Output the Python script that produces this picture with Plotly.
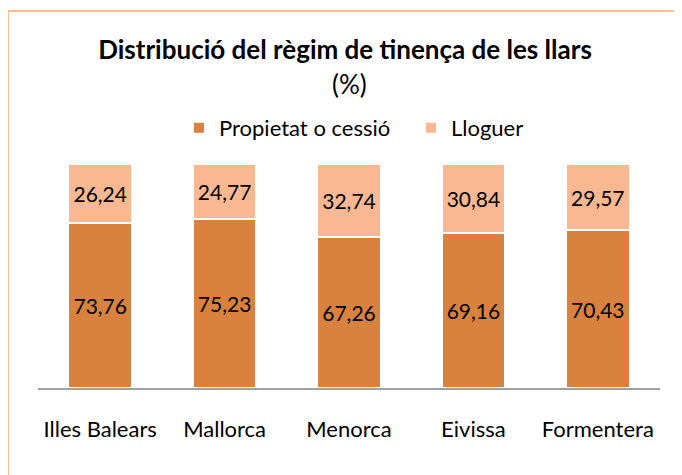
import plotly.graph_objects as go

categories = ["Illes Balears", "Mallorca", "Menorca", "Eivissa", "Formentera"]
propietat = [73.76, 75.23, 67.26, 69.16, 70.43]
lloguer = [26.24, 24.77, 32.74, 30.84, 29.57]

# page body has an 8px margin: work in reference pixels and shift by 8
OFF = 8
W, H = 682 - OFF, 475 - OFF
L, R, T, B = 38 - OFF, 22, 164 - OFF, 87
pw, ph = W - L - R, H - T - B

def px(x):
    return (x - OFF - L) / pw

def py(y):
    return (H - B - (y - OFF)) / ph

FONT = "Lato"

fig = go.Figure()
fig.add_trace(go.Bar(
    x=categories, y=propietat, name="Propietat o cessió",
    marker=dict(color="#D9823F", line=dict(color="white", width=2)),
    texttemplate="%{y:.2f}", textposition="inside", insidetextanchor="middle",
    textfont=dict(size=21, color="black", family=FONT),
))
fig.add_trace(go.Bar(
    x=categories, y=lloguer, name="Lloguer",
    marker=dict(color="#F9B891", line=dict(color="white", width=2)),
    texttemplate="%{y:.2f}", textposition="inside", insidetextanchor="middle",
    textfont=dict(size=21, color="black", family=FONT),
))

fig.update_layout(
    width=W, height=H,
    margin=dict(l=L, r=R, t=T, b=B, autoexpand=False),
    barmode="stack", bargap=0.49,
    separators=",.",
    paper_bgcolor="white", plot_bgcolor="white",
    font=dict(family=FONT, color="black"),
    title=dict(text="<b>Distribució del règim de tinença de les llars</b>",
               x=0.5, xanchor="center", y=1 - (50 - OFF) / H, yanchor="middle",
               font=dict(size=26, family=FONT, color="black")),
    annotations=[dict(text="(%)", x=0.5, xref="paper", xanchor="center",
                      y=py(84), yref="paper", yanchor="middle",
                      showarrow=False, font=dict(size=26, family=FONT, color="black"))],
    legend=dict(orientation="h", x=px(411), xanchor="center", y=py(128), yanchor="middle",
                font=dict(size=22, family=FONT, color="black"), traceorder="normal",
                itemwidth=30, entrywidth=187, bgcolor="rgba(0,0,0,0)"),
    uniformtext=dict(minsize=21, mode="show"),
    xaxis=dict(showline=True, linecolor="#A0A0A0", linewidth=2, ticks="outside",
               ticklen=21, tickcolor="rgba(0,0,0,0)", showgrid=False,
               tickfont=dict(size=22, family=FONT, color="black")),
    yaxis=dict(range=[0, 100], visible=False, showgrid=False, zeroline=False),
    shapes=[dict(type="rect", xref="paper", yref="paper",
                 x0=px(8), y0=py(H + 50), x1=px(W + 80), y1=py(11),
                 line=dict(color="#FAC090", width=2), layer="below")],
)

fig.write_html("out.html")
